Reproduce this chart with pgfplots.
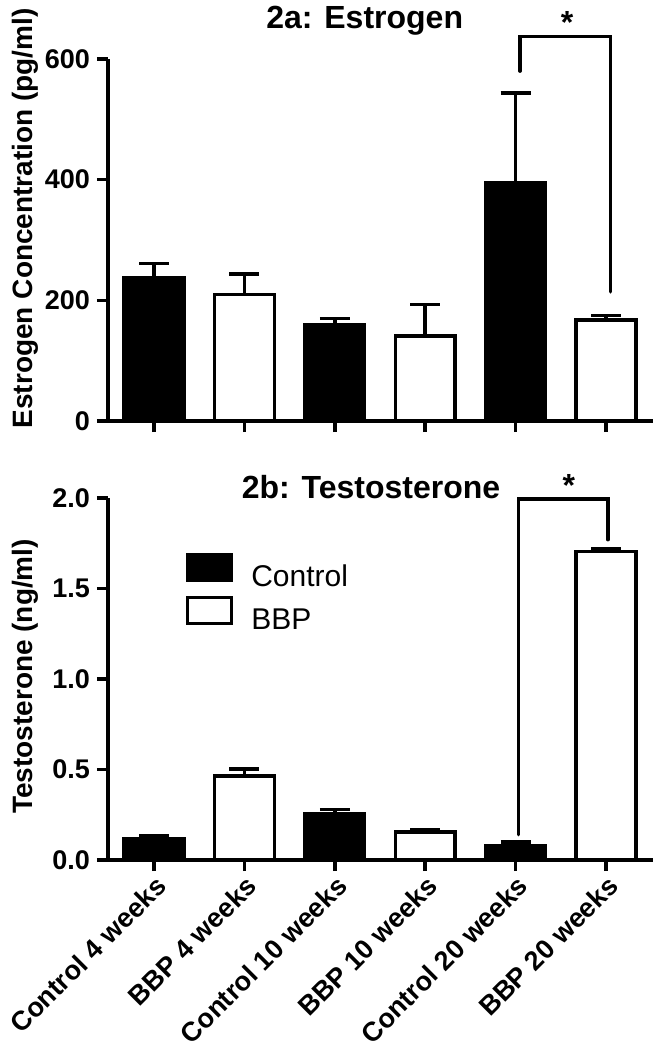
\documentclass[border=0pt]{standalone}
\usepackage{fontspec}
\setmainfont{Liberation Sans}
\usepackage{pgfplots}
\pgfplotsset{compat=1.18}

% values: position, mean, upper error
\pgfplotstableread{
x y e
0 238 23
2 159 11
4 394 150
}\estctrl
\pgfplotstableread{
x y e
1 210 34
3 141 52
5 167 8
}\estbbp
\pgfplotstableread{
x y e
0 0.115 0.020
2 0.258 0.022
4 0.077 0.024
}\testctrl
\pgfplotstableread{
x y e
1 0.465 0.037
3 0.155 0.014
5 1.705 0.013
}\testbbp

\pgfplotsset{
  panel/.style={
    scale only axis, width=272.5pt, height=181pt,
    xmin=-0.51, xmax=5.52, ymin=0,
    axis x line*=bottom, axis y line*=left,
    axis line style={line width=1.8pt, -},
    every tick/.style={line width=1.8pt, black},
    tick align=outside, major tick length=5.5pt,
    xtick={0,...,5},
    clip=false,
    /pgf/number format/assume math mode=true,
    tick label style={font=\fontsize{13.5}{15}\selectfont\bfseries},
    ylabel style={font=\fontsize{14}{16}\selectfont\bfseries, anchor=center},
  },
  bars/.style={ybar, bar width=0.66, bar shift=0pt, draw=black, line width=1.8pt},
  errs/.style={error bars/.cd, y dir=plus, y explicit, error mark=-,
    error bar style={line width=1.8pt, black, solid},
    error mark options={line width=1.8pt, black, mark size=7.5pt, rotate=90},
    /pgfplots/.cd},
}

\begin{document}
\begin{tikzpicture}
\useasboundingbox (-54pt,-314.5pt) rectangle (272.5pt,210.5pt);

\begin{axis}[panel, at={(0,0)}, anchor=south west,
  ymax=600, ytick={0,200,400,600},
  xticklabels={},
  ylabel={Estrogen Concentration (pg/ml)},
  ylabel style={at={(axis description cs:-0.152,0.56)}},
]
\addplot[bars, fill=black, errs] table[x=x, y=y, y error=e] {\estctrl};
\addplot[bars, fill=white, errs] table[x=x, y=y, y error=e] {\estbbp};
\draw[line width=1.8pt, line cap=round] (axis cs:4.05,580) |- (axis cs:5.05,637) -- (axis cs:5.05,214);
\node[font=\fontsize{16}{18}\selectfont\bfseries, anchor=base] at (axis cs:2.33,650) {2a: Estrogen};
\node[font=\fontsize{16}{18}\selectfont\bfseries] at (axis cs:4.57,660) {*};
\end{axis}

\begin{axis}[panel, at={(0,-219.5pt)}, anchor=south west,
  ymax=2.0, ytick={0,0.5,1.0,1.5,2.0},
  yticklabel style={/pgf/number format/.cd, fixed, fixed zerofill, precision=1},
  xticklabels={Control 4 weeks, BBP 4 weeks, Control 10 weeks, BBP 10 weeks, Control 20 weeks, BBP 20 weeks},
  xticklabel style={rotate=45, anchor=north east, inner sep=1pt, font=\fontsize{13.5}{15}\selectfont\bfseries},
  ylabel={Testosterone (ng/ml)},
  ylabel style={at={(axis description cs:-0.152,0.507)}},
  legend style={at={(axis cs:0.345,1.70)}, anchor=north west, draw=none, fill=none,
    inner sep=0pt, row sep=3pt, column sep=9pt,
    nodes={inner sep=0pt}, font=\fontsize{15}{17}\selectfont},
  legend cell align=left,
]
\addplot[bars, fill=black,
  legend image code/.code={\draw[fill=black, draw=black, line width=1.8pt] (0pt,-1.5pt) rectangle (22pt,11.5pt);}, errs]
  table[x=x, y=y, y error=e] {\testctrl};
\addlegendentry{Control}
\addplot[bars, fill=white,
  legend image code/.code={\draw[fill=white, draw=black, line width=1.8pt] (0pt,-1.5pt) rectangle (22pt,11.5pt);}, errs]
  table[x=x, y=y, y error=e] {\testbbp};
\addlegendentry{BBP}
\draw[line width=1.8pt, line cap=round] (axis cs:4.03,0.14) |- (axis cs:5.02,1.995) -- (axis cs:5.02,1.77);
\node[font=\fontsize{16}{18}\selectfont\bfseries, anchor=base] at (axis cs:2.40,2.0) {2b: Testosterone};
\node[font=\fontsize{16}{18}\selectfont\bfseries] at (axis cs:4.59,2.07) {*};
\end{axis}
\end{tikzpicture}
\end{document}
